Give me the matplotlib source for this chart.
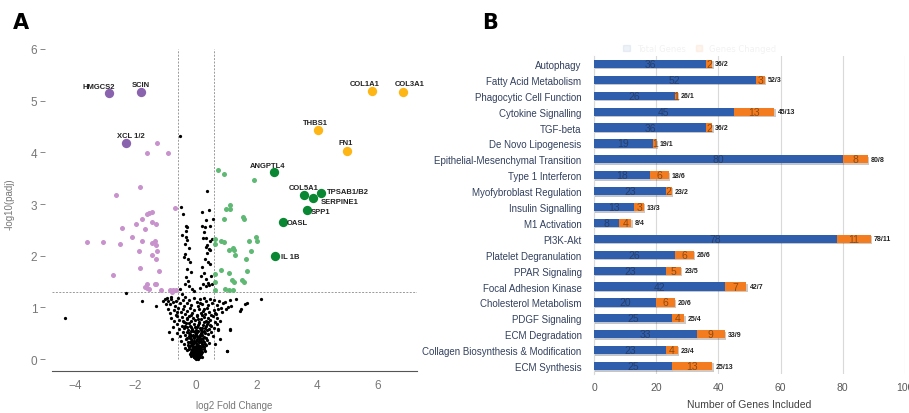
import numpy as np
import matplotlib
matplotlib.use("Agg")
import matplotlib.pyplot as plt
import matplotlib.patheffects as pe
from matplotlib.patches import Patch


# -----------------------------
# Panel A: volcano plot data
# -----------------------------
LFC_CUT = 0.585
PADJ_CUT = 1.301

# labelled genes (log2FC, -log10 padj)
DOWN_GENES = ["HMGCS2", "SCIN", "XCL 1/2"]
DOWN_X = [-2.88, -1.80, -2.32]
DOWN_Y = [5.14, 5.16, 4.19]

ECM_GENES = ["COL1A1", "COL3A1", "THBS1", "FN1"]
ECM_X = [5.80, 6.82, 4.02, 4.98]
ECM_Y = [5.19, 5.17, 4.43, 4.03]

UP_GENES = ["ANGPTL4", "COL5A1", "SERPINE1", "TPSAB1/B2", "SPP1", "OASL", "IL 1B"]
UP_X = [2.56, 3.57, 3.87, 4.11, 3.66, 2.86, 2.62]
UP_Y = [3.61, 3.17, 3.12, 3.22, 2.88, 2.66, 2.00]

# other significant down genes
SIG_DOWN_X = [-1.27, -1.63, -0.93, -1.86, -2.64, -0.68, -1.63, -1.54, -1.45, -1.79,
              -1.46, -1.32, -1.99, -2.43, -1.67, -2.12, -3.59, -3.07, -2.52, -1.77,
              -1.45, -1.35, -1.32, -1.87, -1.29, -1.46, -1.31, -1.85, -1.22, -2.74,
              -1.63, -1.35, -1.31, -1.63, -1.54, -1.67, -1.15, -0.85, -0.76, -0.67,
              -0.80]
SIG_DOWN_Y = [4.19, 3.99, 3.99, 3.32, 3.17, 2.92, 2.81, 2.83, 2.85, 2.71,
              2.66, 2.62, 2.62, 2.53, 2.52, 2.36, 2.26, 2.26, 2.22, 2.28,
              2.25, 2.28, 2.21, 2.10, 2.10, 2.02, 1.94, 1.77, 1.70, 1.63,
              1.45, 1.46, 1.46, 1.37, 1.35, 1.40, 1.34, 1.34, 1.34, 1.34,
              1.30]

# other significant up genes
SIG_UP_X = [0.71, 0.92, 1.93, 1.12, 1.00, 1.13, 0.91, 1.55, 1.60, 0.63,
            0.63, 0.82, 0.93, 1.74, 1.97, 2.02, 1.09, 1.22, 1.24, 1.81,
            1.29, 1.66, 0.84, 0.63, 1.08, 1.67, 1.18, 1.27, 1.53, 1.58,
            0.63, 0.96, 1.09, 1.22, 0.63]
SIG_UP_Y = [3.66, 3.59, 3.46, 2.99, 2.90, 2.90, 2.72, 2.74, 2.72, 2.33,
            2.23, 2.28, 2.26, 2.28, 2.37, 2.28, 2.12, 2.15, 2.12, 2.10,
            2.01, 1.94, 1.73, 1.64, 1.67, 1.70, 1.54, 1.50, 1.53, 1.50,
            1.50, 1.36, 1.34, 1.33, 1.34]

# non-significant genes
NS_POINTS = [
    (-0.54, 4.32), (0.37, 3.25), (-0.48, 2.94), (-0.43, 2.81), (0.21, 2.85), (0.43, 2.89),
    (0.56, 2.72), (0.34, 2.70), (-0.32, 2.58), (-0.29, 2.55), (-0.32, 2.48), (0.20, 2.57),
    (0.29, 2.56), (0.47, 2.58), (-0.45, 2.41), (-0.32, 2.37), (-0.29, 2.31), (0.23, 2.35),
    (0.32, 2.34), (0.47, 2.29), (0.53, 2.32), (-0.37, 2.23), (-0.23, 2.14), (0.32, 2.16),
    (0.37, 2.21), (0.43, 2.13), (0.47, 2.12), (-0.37, 2.03), (-0.26, 1.94), (-0.21, 1.87),
    (0.29, 1.94), (0.40, 1.88), (0.45, 1.84), (-0.30, 1.74), (-0.18, 1.68), (-0.32, 1.58),
    (0.15, 1.61), (0.25, 1.66), (0.32, 1.55), (0.40, 1.48), (-0.37, 1.45), (-0.23, 1.41),
    (-0.12, 1.35), (0.23, 1.45), (0.32, 1.41), (0.43, 1.43), (0.54, 1.45), (-0.54, 1.35),
    (-0.45, 1.26), (0.27, 2.45), (0.36, 2.05), (-0.40, 1.98), (0.20, 1.78), (-0.25, 1.52),
    (0.50, 1.60), (0.12, 1.38), (-0.05, 1.32),
    (-2.30, 1.28), (-1.77, 1.12), (-1.33, 1.02), (-4.33, 0.79), (2.15, 1.16), (1.63, 1.06),
    (1.69, 1.08), (1.33, 1.16), (1.44, 0.94), (1.49, 0.97), (1.05, 1.01), (1.16, 1.03),
    (1.00, 0.97), (0.89, 1.08), (1.03, 0.16), (1.11, 0.58), (0.78, 0.74), (0.67, 0.87),
    (0.73, 0.58), (-0.89, 0.52), (-0.79, 0.39), (-0.63, 0.91), (0.73, 0.56), (1.12, 0.56),
    (1.02, 0.15), (0.63, 0.29), (0.79, 0.39),
    (-1.03, 1.16), (-0.92, 1.13), (-0.81, 1.17), (-0.76, 1.10), (-0.87, 1.06), (-0.65, 1.13),
    (-0.98, 1.06), (-0.70, 1.03), (-1.09, 1.13), (-0.95, 1.19), (-0.84, 1.21), (-0.60, 1.18),
    (-0.52, 1.08), (-0.44, 1.15), (-0.36, 1.20), (-0.30, 1.09), (-0.22, 1.14), (-0.15, 1.04),
    (-0.08, 1.18), (0.02, 1.11), (0.08, 1.02), (0.14, 1.16), (0.21, 1.07), (0.27, 1.19),
    (0.33, 1.12), (0.40, 1.04), (0.46, 1.17), (0.53, 1.09), (0.60, 1.14), (0.70, 1.05),
    (0.76, 1.12), (0.82, 0.98), (0.95, 1.10), (1.12, 1.14),
    (-0.93, 0.97), (-0.85, 0.90), (-0.74, 0.95), (-0.66, 0.86), (-0.58, 0.99), (-0.50, 0.91),
    (-0.42, 0.96), (-0.35, 0.87), (-0.28, 0.93), (-0.20, 0.98), (-0.12, 0.89), (-0.05, 0.95),
    (0.03, 0.86), (0.10, 0.97), (0.16, 0.90), (0.23, 0.94), (0.30, 0.88), (0.37, 0.99),
    (0.44, 0.92), (0.51, 0.86), (0.58, 0.95), (0.64, 0.90), (0.72, 0.96), (0.85, 0.92),
    (-0.82, 0.80), (-0.72, 0.74), (-0.62, 0.83), (-0.55, 0.76), (-0.46, 0.81), (-0.38, 0.72),
    (-0.31, 0.79), (-0.24, 0.84), (-0.17, 0.73), (-0.10, 0.80), (-0.03, 0.76), (0.04, 0.83),
    (0.11, 0.72), (0.18, 0.78), (0.25, 0.82), (0.32, 0.74), (0.39, 0.80), (0.47, 0.76),
    (0.55, 0.83), (0.62, 0.71), (0.70, 0.79),
    (-0.75, 0.62), (-0.64, 0.68), (-0.55, 0.58), (-0.47, 0.65), (-0.39, 0.60), (-0.32, 0.69),
    (-0.26, 0.56), (-0.19, 0.64), (-0.13, 0.59), (-0.07, 0.67), (-0.01, 0.57), (0.05, 0.63),
    (0.11, 0.69), (0.17, 0.56), (0.23, 0.66), (0.29, 0.60), (0.36, 0.68), (0.43, 0.58),
    (0.51, 0.64), (0.60, 0.61), (0.68, 0.67), (-0.29, 0.62), (0.20, 0.61),
    (-0.62, 0.50), (-0.52, 0.44), (-0.43, 0.53), (-0.36, 0.47), (-0.29, 0.41), (-0.23, 0.51),
    (-0.17, 0.45), (-0.11, 0.54), (-0.06, 0.42), (0.00, 0.49), (0.05, 0.53), (0.10, 0.43),
    (0.15, 0.50), (0.21, 0.46), (0.27, 0.54), (0.33, 0.41), (0.40, 0.48), (0.48, 0.52),
    (0.56, 0.45), (-0.20, 0.48), (0.12, 0.47), (-0.02, 0.45),
    (-0.48, 0.36), (-0.40, 0.30), (-0.32, 0.38), (-0.26, 0.27), (-0.21, 0.34), (-0.15, 0.39),
    (-0.10, 0.29), (-0.05, 0.36), (-0.01, 0.31), (0.03, 0.38), (0.07, 0.27), (0.11, 0.33),
    (0.15, 0.39), (0.19, 0.29), (0.24, 0.35), (0.30, 0.30), (0.37, 0.37), (0.44, 0.32),
    (-0.18, 0.31), (0.09, 0.35), (-0.08, 0.33), (0.13, 0.26),
    (-0.35, 0.22), (-0.28, 0.17), (-0.22, 0.24), (-0.17, 0.14), (-0.13, 0.20), (-0.09, 0.16),
    (-0.05, 0.23), (-0.02, 0.13), (0.01, 0.19), (0.04, 0.24), (0.07, 0.15), (0.10, 0.21),
    (0.13, 0.17), (0.16, 0.23), (0.20, 0.14), (0.25, 0.20), (0.31, 0.16), (-0.11, 0.12),
    (0.05, 0.18), (-0.03, 0.21), (0.12, 0.12),
    (-0.20, 0.09), (-0.15, 0.06), (-0.11, 0.10), (-0.08, 0.04), (-0.05, 0.08), (-0.03, 0.02),
    (0.00, 0.06), (0.02, 0.10), (0.04, 0.03), (0.06, 0.07), (0.08, 0.01), (0.10, 0.09),
    (0.13, 0.05), (0.16, 0.10), (0.19, 0.04), (-0.01, 0.00), (0.03, 0.05), (-0.06, 0.11),
    (0.07, 0.11), (0.01, 0.03),
    # dense core
    (-0.30, 0.52), (-0.24, 0.44), (-0.16, 0.55), (-0.09, 0.47), (-0.04, 0.52), (0.03, 0.44),
    (0.08, 0.55), (0.14, 0.45), (0.19, 0.52), (0.25, 0.43), (0.31, 0.51), (0.36, 0.56),
    (-0.27, 0.34), (-0.19, 0.40), (-0.12, 0.35), (-0.07, 0.40), (0.00, 0.36), (0.05, 0.30),
    (0.10, 0.39), (0.17, 0.34), (0.22, 0.40), (0.27, 0.33), (0.34, 0.28), (-0.14, 0.27),
    (-0.24, 0.20), (-0.19, 0.26), (-0.14, 0.17), (-0.07, 0.19), (-0.01, 0.25), (0.03, 0.14),
    (0.08, 0.22), (0.14, 0.13), (0.18, 0.19), (0.22, 0.25), (0.28, 0.23), (-0.10, 0.23),
    (-0.14, 0.08), (-0.09, 0.13), (-0.04, 0.15), (0.00, 0.12), (0.05, 0.09), (0.09, 0.15),
    (0.11, 0.05), (0.15, 0.16), (-0.02, 0.07), (0.06, 0.02), (-0.06, 0.04), (0.12, 0.09),
    (-0.36, 0.64), (-0.22, 0.69), (-0.15, 0.63), (-0.03, 0.62), (0.08, 0.66), (0.14, 0.60),
    (0.26, 0.71), (0.33, 0.64), (0.40, 0.72), (-0.44, 0.74), (-0.28, 0.77), (0.07, 0.77),
    (0.21, 0.86), (-0.16, 0.85), (0.28, 0.96), (-0.38, 1.02), (0.12, 1.09), (0.45, 0.66),
]

# label position (data units) and alignment for each labelled gene
LABEL_POS = {
    "HMGCS2": (-3.21, 5.28, "center"),
    "SCIN": (-1.82, 5.31, "center"),
    "XCL 1/2": (-2.15, 4.33, "center"),
    "COL1A1": (5.55, 5.34, "center"),
    "COL3A1": (7.05, 5.34, "center"),
    "THBS1": (3.95, 4.57, "center"),
    "FN1": (4.93, 4.19, "center"),
    "ANGPTL4": (2.35, 3.75, "center"),
    "COL5A1": (3.56, 3.32, "center"),
    "SERPINE1": (4.13, 3.05, "left"),
    "TPSAB1/B2": (4.33, 3.25, "left"),
    "SPP1": (3.80, 2.86, "left"),
    "OASL": (3.00, 2.65, "left"),
    "IL 1B": (2.80, 1.99, "left"),
}


# -----------------------------
# Panel B: pathway bar data
# -----------------------------
PATHWAYS = [
    "Autophagy", "Fatty Acid Metabolism", "Phagocytic Cell Function",
    "Cytokine Signalling", "TGF-beta", "De Novo Lipogenesis",
    "Epithelial-Mesenchymal Transition", "Type 1 Interferon",
    "Myofybroblast Regulation", "Insulin Signalling", "M1 Activation",
    "PI3K-Akt", "Platelet Degranulation", "PPAR Signaling",
    "Focal Adhesion Kinase", "Cholesterol Metabolism", "PDGF Signaling",
    "ECM Degradation", "Collagen Biosynthesis & Modification", "ECM Synthesis",
]
GENES_TOTAL = [36, 52, 26, 45, 36, 19, 80, 18, 23, 13, 8, 78, 26, 23, 42, 20, 25, 33, 23, 25]
GENES_DE = [2, 3, 1, 13, 2, 1, 8, 6, 2, 3, 4, 11, 6, 5, 7, 6, 4, 9, 4, 13]
X_TICKS_B = [0, 20, 40, 60, 80, 100]

NARROW = ["Liberation Sans Narrow", "Liberation Sans", "DejaVu Sans"]
BLUE = "#2F5EAD"
ORANGE = "#F37C21"


def plot_volcano(ax):
    ns = np.array(NS_POINTS)
    ax.scatter(ns[:, 0], ns[:, 1], s=5.5, color="black", linewidths=0, zorder=3)
    ax.scatter(SIG_DOWN_X, SIG_DOWN_Y, s=13, color="#C892CC", linewidths=0, zorder=3)
    ax.scatter(SIG_UP_X, SIG_UP_Y, s=13, color="#5FB874", linewidths=0, zorder=3)
    ax.scatter(DOWN_X, DOWN_Y, s=45, color="#8A63AE", linewidths=0, zorder=4)
    ax.scatter(ECM_X, ECM_Y, s=45, color="#FDB614", linewidths=0, zorder=4)
    ax.scatter(UP_X, UP_Y, s=45, color="#0A8733", linewidths=0, zorder=4)

    for gene in DOWN_GENES + ECM_GENES + UP_GENES:
        x, y, ha = LABEL_POS[gene]
        ax.text(x, y, gene, ha=ha, va="center", fontsize=5.5,
                family=NARROW, fontweight="bold", color="#222222", zorder=5)

    # thresholds
    for xv in (-LFC_CUT, LFC_CUT):
        ax.plot([xv, xv], [0, 6], color="#9A9A9A", linestyle=(0, (2, 1.5)),
                linewidth=0.7, zorder=1)
    ax.axhline(PADJ_CUT, color="#9A9A9A", linestyle=(0, (2, 1.5)),
               linewidth=0.7, zorder=1)

    ax.set_xlim(-4.75, 7.29)
    ax.set_ylim(-0.23, 6.25)
    ax.set_xticks([-4, -2, 0, 2, 4, 6])
    ax.set_yticks([0, 1, 2, 3, 4, 5, 6])

    for side in ("top", "right"):
        ax.spines[side].set_visible(False)
    ax.spines["left"].set_position(("outward", 5))
    ax.spines["left"].set_color("none")
    ax.spines["bottom"].set_color("#555555")
    ax.spines["bottom"].set_linewidth(0.8)

    ax.tick_params(axis="y", length=3.5, width=0.7, color="#888888",
                   labelsize=8.5, labelcolor="#777777", pad=2)
    ax.tick_params(axis="x", length=0, labelsize=8.5, labelcolor="#777777", pad=6)
    for lab in ax.get_xticklabels() + ax.get_yticklabels():
        lab.set_family("Liberation Sans")

    ax.set_xlabel("log2 Fold Change", fontsize=7, color="#777777",
                  family="Liberation Sans", labelpad=6)
    ax.set_ylabel("-log10(padj)", fontsize=7, color="#777777",
                  family="Liberation Sans", labelpad=12)


def plot_pathways(ax):
    y = np.arange(len(PATHWAYS))
    total = np.array(GENES_TOTAL)
    de = np.array(GENES_DE)
    shadow = [pe.SimplePatchShadow(offset=(1, -1), alpha=0.25), pe.Normal()]

    blue_bars = ax.barh(y, total, height=0.52, color=BLUE, zorder=3)
    orange_bars = ax.barh(y, de, left=total, height=0.52, color=ORANGE, zorder=3)
    for bar in list(blue_bars) + list(orange_bars):
        bar.set_path_effects(shadow)

    for yi, t, d in zip(y, total, de):
        ax.text(t / 2, yi, str(t), ha="center", va="center", fontsize=7.5,
                family=NARROW, color="#273F6B", zorder=4)
        ax.text(t + d / 2, yi, str(d), ha="center", va="center", fontsize=7.5,
                family=NARROW, color="#8E4A12", zorder=4)
        ax.text(t + d + 1.0, yi, f"{t}/{d}", ha="left", va="center",
                fontsize=5, family=NARROW, fontweight="bold", color="#222222", zorder=4)

    ax.set_ylim(len(PATHWAYS) - 0.5, -0.5)
    ax.set_xlim(0, 100)
    ax.set_yticks(y)
    ax.set_yticklabels(PATHWAYS, family=NARROW, fontsize=7, color="#33415F")
    ax.set_xticks(X_TICKS_B)
    ax.set_xticklabels([str(v) for v in X_TICKS_B], family=NARROW, fontsize=7.5,
                       color="#595959")
    ax.tick_params(axis="both", length=0)
    ax.tick_params(axis="y", pad=9)
    ax.tick_params(axis="x", pad=6)

    ax.grid(axis="x", color="#D9D9D9", linewidth=0.8, zorder=0)
    for side in ("top", "right", "bottom"):
        ax.spines[side].set_visible(False)
    ax.spines["left"].set_color("#D9D9D9")
    ax.spines["left"].set_linewidth(0.8)

    ax.set_xlabel("Number of Genes Included", family=NARROW, fontsize=7.5,
                  color="#404040", labelpad=5)

    # legend is barely visible in the original
    handles = [Patch(color=BLUE, alpha=0.08), Patch(color=ORANGE, alpha=0.08)]
    leg = ax.legend(handles, ["Total Genes", "Genes Changed"], loc="lower center",
                    bbox_to_anchor=(0.34, 1.0), ncol=2, frameon=False,
                    fontsize=6, handlelength=0.8, handleheight=0.8,
                    columnspacing=1.2, borderaxespad=0)
    for txt in leg.get_texts():
        txt.set_color("#F2F2F2")


def main():
    fig = plt.figure(figsize=(9.09, 4.14), dpi=100)

    ax_a = fig.add_axes([0.0572, 0.1014, 0.4015, 0.8092])
    ax_b = fig.add_axes([0.6535, 0.0942, 0.3421, 0.7681])

    plot_volcano(ax_a)
    plot_pathways(ax_b)

    fig.text(0.014, 0.945, "A", fontsize=15, fontweight="bold", ha="left", va="center")
    fig.text(0.530, 0.945, "B", fontsize=15, fontweight="bold", ha="left", va="center")

    fig.savefig("out.png", dpi=100)
    plt.close(fig)


if __name__ == "__main__":
    main()
